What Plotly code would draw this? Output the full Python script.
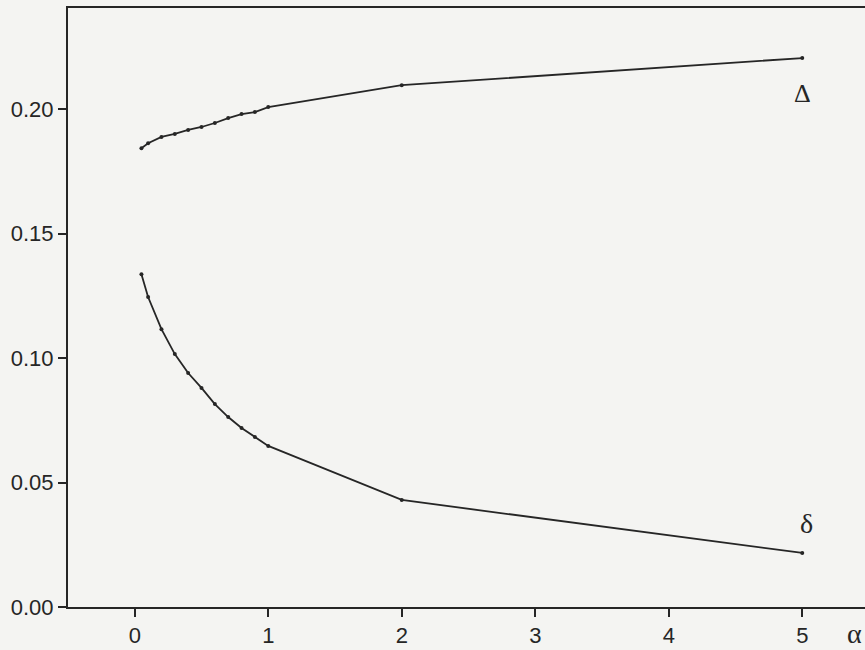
import plotly.graph_objects as go

# collaboration strength alpha
alpha = [0.05, 0.1, 0.2, 0.3, 0.4, 0.5, 0.6, 0.7, 0.8, 0.9, 1.0, 2.0, 5.0]

# upper curve (Delta)
delta_upper = [0.1843, 0.1863, 0.1888, 0.1900, 0.1916, 0.1928, 0.1944,
               0.1964, 0.1980, 0.1988, 0.2008, 0.2096, 0.2205]

# lower curve (delta)
delta_lower = [0.1337, 0.1245, 0.1116, 0.1016, 0.0940, 0.0880, 0.0815,
               0.0763, 0.0719, 0.0683, 0.0647, 0.0430, 0.0217]

x_ticks = [0, 1, 2, 3, 4, 5]
y_ticks = [0.00, 0.05, 0.10, 0.15, 0.20]
y_tick_text = ["0.00", "0.05", "0.10", "0.15", "0.20"]

ink = "#262626"
paper = "#f4f4f2"

fig = go.Figure()
for series in (delta_upper, delta_lower):
    fig.add_trace(go.Scatter(
        x=alpha, y=series, mode="lines+markers",
        line=dict(color=ink, width=1.8),
        marker=dict(color=ink, size=4),
        showlegend=False, hoverinfo="skip",
    ))

fig.add_annotation(x=5.0, y=0.2064, text="Δ", showarrow=False,
                   font=dict(family="Liberation Serif", size=26, color=ink))
fig.add_annotation(x=5.03, y=0.0337, text="δ", showarrow=False,
                   font=dict(family="Liberation Serif", size=28, color=ink))
fig.add_annotation(x=5.39, xref="x", y=-0.074, yref="paper", text="α",
                   showarrow=False,
                   font=dict(family="Liberation Serif", size=28, color=ink))

fig.update_layout(
    width=865, height=650,
    margin=dict(l=68, r=0, t=8, b=43),
    paper_bgcolor=paper, plot_bgcolor=paper,
    font=dict(family="Liberation Sans", size=22, color=ink),
    xaxis=dict(
        range=[-0.5, 5.47], tickvals=x_ticks, ticks="outside", ticklen=8,
        tickwidth=1.5, tickcolor=ink, showline=True, linecolor=ink,
        linewidth=2, mirror=True, showgrid=False, zeroline=False,
        fixedrange=True, tickfont=dict(size=22),
    ),
    yaxis=dict(
        range=[0, 0.2406], tickvals=y_ticks, ticktext=y_tick_text,
        ticks="outside", ticklen=8, tickwidth=1.5, tickcolor=ink,
        showline=True, linecolor=ink, linewidth=2, showgrid=False,
        zeroline=False, fixedrange=True, tickfont=dict(size=22),
    ),
)

fig.write_html("out.html")
